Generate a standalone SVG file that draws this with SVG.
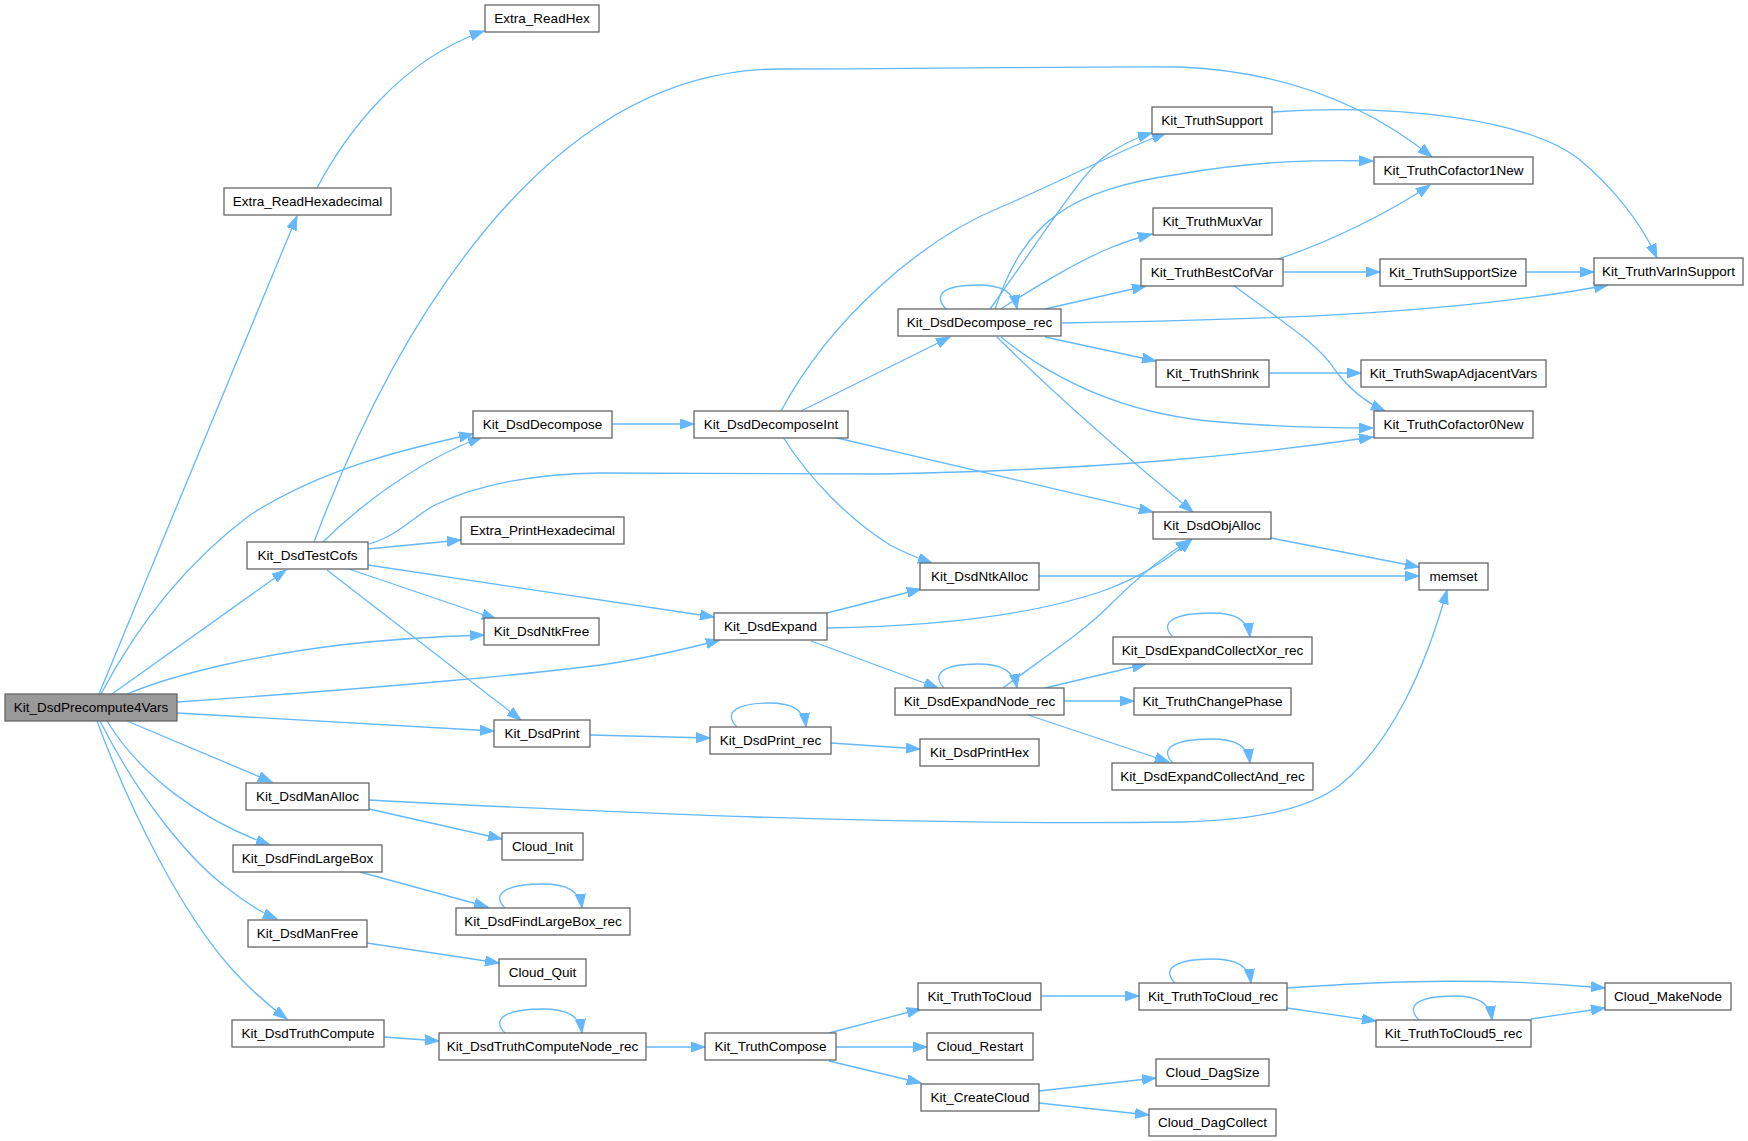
<svg xmlns="http://www.w3.org/2000/svg" width="1748" height="1141" viewBox="0 0 1748 1141">
<style>
.n rect{fill:#fff;stroke:#666;stroke-width:1.3}
.n.root rect{fill:#999}
.n text{font-family:"Liberation Sans",Arial,sans-serif;font-size:13.5px;fill:#000;text-anchor:middle}
.e path{fill:none;stroke:#63b8ff;stroke-width:1.3;marker-end:url(#ah)}
</style>
<defs>
<marker id="ah" markerUnits="userSpaceOnUse" markerWidth="15" markerHeight="11" refX="14" refY="5" orient="auto" viewBox="0 0 15 10">
<path d="M0,0 L14,5 L0,10 z" fill="#63b8ff" stroke="#63b8ff" stroke-width="1"/>
</marker>
</defs>
<rect width="1748" height="1141" fill="#fff"/>
<g id="edges" class="e">
<path d="M99,694 L297,216"/>
<path d="M101,694 C140,620 190,560 250,515 C320,470 400,450 473,434"/>
<path d="M112,694 L286,570"/>
<path d="M127,694 C180,672 260,655 340,645 C400,638 450,636 484,635"/>
<path d="M177,702 C380,688 560,672 620,662 C660,655 690,648 720,640"/>
<path d="M177,713 L494,731"/>
<path d="M127,721 L272,782"/>
<path d="M107,721 C140,775 200,820 270,845"/>
<path d="M100,721 C140,800 190,860 226,887 C245,902 260,912 277,919"/>
<path d="M97,721 C130,810 180,910 230,967 C250,990 268,1005 287,1019"/>
<path d="M314,542 C390,340 540,69 780,69 C950,69 1100,66 1180,67 C1300,72 1380,115 1432,157"/>
<path d="M323,542 C360,505 420,460 482,437"/>
<path d="M369,544 C400,535 415,515 435,505 C480,483 540,474 600,473 L880,474 C1100,470 1250,455 1373,437"/>
<path d="M368,549 L461,540"/>
<path d="M368,565 L714,617"/>
<path d="M349,569 L496,619"/>
<path d="M327,570 L521,720"/>
<path d="M612,424 L694,424"/>
<path d="M781,411 C830,320 920,240 1001,207 C1060,182 1120,150 1166,133"/>
<path d="M801,411 L950,337"/>
<path d="M783,437 C810,480 850,520 890,545 C905,553 918,558 932,563"/>
<path d="M833,437 L1153,512"/>
<path d="M946,309 C932,294 945,285 978,285 C1002,285 1014,292 1017,309"/>
<path d="M990,309 C1040,240 1080,175 1104,157 C1120,145 1135,138 1152,133"/>
<path d="M995,309 C1025,220 1070,190 1180,174 C1260,160 1320,160 1373,161"/>
<path d="M1001,309 C1030,290 1080,260 1110,248 C1125,242 1140,237 1152,234"/>
<path d="M1045,309 L1146,286"/>
<path d="M1062,323 C1250,320 1450,315 1608,285"/>
<path d="M1045,337 L1156,361"/>
<path d="M1001,337 C1060,385 1130,415 1220,422 C1280,427 1330,428 1373,428"/>
<path d="M997,337 C1060,400 1130,460 1193,512"/>
<path d="M1272,112 C1400,103 1530,120 1580,160 C1610,185 1640,220 1657,258"/>
<path d="M1278,259 C1330,242 1390,212 1430,185"/>
<path d="M1283,272 L1380,272"/>
<path d="M1233,285 C1280,320 1320,345 1335,370 C1350,390 1365,402 1385,411"/>
<path d="M1526,272 L1594,272"/>
<path d="M1269,373 L1361,373"/>
<path d="M1271,538 L1419,567"/>
<path d="M1039,576 L1419,576"/>
<path d="M827,613 L921,589"/>
<path d="M827,628 C950,626 1040,612 1100,592 C1140,578 1170,558 1192,539"/>
<path d="M811,641 L938,688"/>
<path d="M944,688 C930,673 945,664 978,664 C1002,664 1014,671 1017,688"/>
<path d="M1003,688 C1040,660 1080,635 1110,605 C1140,575 1165,555 1190,540"/>
<path d="M1045,688 L1146,664"/>
<path d="M1064,701 L1134,701"/>
<path d="M1028,715 L1169,762"/>
<path d="M1173,637 C1158,622 1175,613 1212,613 C1236,613 1248,620 1250,637"/>
<path d="M1173,763 C1158,748 1175,739 1212,739 C1236,739 1248,746 1250,763"/>
<path d="M369,800 C600,812 900,826 1180,822 C1260,820 1310,808 1340,785 C1390,745 1425,670 1447,590"/>
<path d="M369,809 L502,839"/>
<path d="M360,872 L488,907"/>
<path d="M505,908 C490,893 508,884 543,884 C567,884 580,891 582,908"/>
<path d="M367,943 L499,963"/>
<path d="M384,1037 L439,1041"/>
<path d="M505,1033 C490,1018 508,1009 543,1009 C567,1009 580,1016 582,1033"/>
<path d="M646,1047 L705,1047"/>
<path d="M829,1033 L921,1009"/>
<path d="M836,1047 L927,1047"/>
<path d="M829,1061 L921,1083"/>
<path d="M1041,996 L1139,996"/>
<path d="M1175,983 C1160,968 1178,959 1212,959 C1237,959 1249,966 1251,983"/>
<path d="M1287,988 C1400,980 1500,978 1605,988"/>
<path d="M1287,1008 L1376,1021"/>
<path d="M1419,1020 C1404,1005 1420,996 1454,996 C1478,996 1490,1003 1492,1020"/>
<path d="M1531,1019 L1605,1008"/>
<path d="M1039,1091 L1156,1078"/>
<path d="M1039,1103 L1149,1115"/>
<path d="M590,735 L710,738"/>
<path d="M737,727 C722,712 738,703 769,703 C793,703 804,710 806,727"/>
<path d="M831,743 L920,749"/>
<path d="M317,188 C345,135 400,60 484,31"/>
</g>
<g id="n1" class="n root"><rect x="5" y="694" width="172" height="27"/><text x="91" y="712">Kit_DsdPrecompute4Vars</text></g>
<g id="n2" class="n"><rect x="224" y="188" width="167" height="27"/><text x="307.5" y="206">Extra_ReadHexadecimal</text></g>
<g id="n3" class="n"><rect x="485" y="5" width="114" height="27"/><text x="542" y="23">Extra_ReadHex</text></g>
<g id="n4" class="n"><rect x="473" y="411" width="139" height="27"/><text x="542.5" y="429">Kit_DsdDecompose</text></g>
<g id="n5" class="n"><rect x="247" y="542" width="121" height="27"/><text x="307.5" y="560">Kit_DsdTestCofs</text></g>
<g id="n6" class="n"><rect x="461" y="517" width="163" height="27"/><text x="542.5" y="535">Extra_PrintHexadecimal</text></g>
<g id="n7" class="n"><rect x="484" y="618" width="115" height="27"/><text x="541.5" y="636">Kit_DsdNtkFree</text></g>
<g id="n8" class="n"><rect x="494" y="720" width="96" height="27"/><text x="542" y="738">Kit_DsdPrint</text></g>
<g id="n9" class="n"><rect x="246" y="783" width="123" height="27"/><text x="307.5" y="801">Kit_DsdManAlloc</text></g>
<g id="n10" class="n"><rect x="502" y="833" width="81" height="27"/><text x="542.5" y="851">Cloud_Init</text></g>
<g id="n11" class="n"><rect x="233" y="845" width="149" height="27"/><text x="307.5" y="863">Kit_DsdFindLargeBox</text></g>
<g id="n12" class="n"><rect x="456" y="908" width="174" height="27"/><text x="543" y="926">Kit_DsdFindLargeBox_rec</text></g>
<g id="n13" class="n"><rect x="248" y="920" width="119" height="27"/><text x="307.5" y="938">Kit_DsdManFree</text></g>
<g id="n14" class="n"><rect x="499" y="959" width="87" height="27"/><text x="542.5" y="977">Cloud_Quit</text></g>
<g id="n15" class="n"><rect x="232" y="1020" width="152" height="27"/><text x="308" y="1038">Kit_DsdTruthCompute</text></g>
<g id="n16" class="n"><rect x="439" y="1033" width="207" height="27"/><text x="542.5" y="1051">Kit_DsdTruthComputeNode_rec</text></g>
<g id="n17" class="n"><rect x="694" y="411" width="154" height="27"/><text x="771" y="429">Kit_DsdDecomposeInt</text></g>
<g id="n18" class="n"><rect x="714" y="613" width="113" height="27"/><text x="770.5" y="631">Kit_DsdExpand</text></g>
<g id="n19" class="n"><rect x="710" y="727" width="121" height="27"/><text x="770.5" y="745">Kit_DsdPrint_rec</text></g>
<g id="n20" class="n"><rect x="705" y="1033" width="131" height="27"/><text x="770.5" y="1051">Kit_TruthCompose</text></g>
<g id="n21" class="n"><rect x="898" y="309" width="163" height="27"/><text x="979.5" y="327">Kit_DsdDecompose_rec</text></g>
<g id="n22" class="n"><rect x="920" y="563" width="119" height="27"/><text x="979.5" y="581">Kit_DsdNtkAlloc</text></g>
<g id="n23" class="n"><rect x="895" y="688" width="169" height="27"/><text x="979.5" y="706">Kit_DsdExpandNode_rec</text></g>
<g id="n24" class="n"><rect x="920" y="739" width="119" height="27"/><text x="979.5" y="757">Kit_DsdPrintHex</text></g>
<g id="n25" class="n"><rect x="918" y="983" width="123" height="27"/><text x="979.5" y="1001">Kit_TruthToCloud</text></g>
<g id="n26" class="n"><rect x="927" y="1033" width="106" height="27"/><text x="980" y="1051">Cloud_Restart</text></g>
<g id="n27" class="n"><rect x="921" y="1084" width="118" height="27"/><text x="980" y="1102">Kit_CreateCloud</text></g>
<g id="n28" class="n"><rect x="1152" y="107" width="120" height="27"/><text x="1212" y="125">Kit_TruthSupport</text></g>
<g id="n29" class="n"><rect x="1153" y="208" width="119" height="27"/><text x="1212.5" y="226">Kit_TruthMuxVar</text></g>
<g id="n30" class="n"><rect x="1141" y="259" width="142" height="27"/><text x="1212" y="277">Kit_TruthBestCofVar</text></g>
<g id="n31" class="n"><rect x="1156" y="360" width="113" height="27"/><text x="1212.5" y="378">Kit_TruthShrink</text></g>
<g id="n32" class="n"><rect x="1153" y="512" width="118" height="27"/><text x="1212" y="530">Kit_DsdObjAlloc</text></g>
<g id="n33" class="n"><rect x="1113" y="637" width="199" height="27"/><text x="1212.5" y="655">Kit_DsdExpandCollectXor_rec</text></g>
<g id="n34" class="n"><rect x="1134" y="688" width="157" height="27"/><text x="1212.5" y="706">Kit_TruthChangePhase</text></g>
<g id="n35" class="n"><rect x="1112" y="763" width="201" height="27"/><text x="1212.5" y="781">Kit_DsdExpandCollectAnd_rec</text></g>
<g id="n36" class="n"><rect x="1139" y="983" width="148" height="27"/><text x="1213" y="1001">Kit_TruthToCloud_rec</text></g>
<g id="n37" class="n"><rect x="1156" y="1059" width="113" height="27"/><text x="1212.5" y="1077">Cloud_DagSize</text></g>
<g id="n38" class="n"><rect x="1149" y="1109" width="127" height="27"/><text x="1212.5" y="1127">Cloud_DagCollect</text></g>
<g id="n39" class="n"><rect x="1374" y="157" width="159" height="27"/><text x="1453.5" y="175">Kit_TruthCofactor1New</text></g>
<g id="n40" class="n"><rect x="1380" y="259" width="146" height="27"/><text x="1453" y="277">Kit_TruthSupportSize</text></g>
<g id="n41" class="n"><rect x="1361" y="360" width="185" height="27"/><text x="1453.5" y="378">Kit_TruthSwapAdjacentVars</text></g>
<g id="n42" class="n"><rect x="1374" y="411" width="159" height="27"/><text x="1453.5" y="429">Kit_TruthCofactor0New</text></g>
<g id="n43" class="n"><rect x="1419" y="563" width="69" height="27"/><text x="1453.5" y="581">memset</text></g>
<g id="n44" class="n"><rect x="1376" y="1020" width="155" height="27"/><text x="1453.5" y="1038">Kit_TruthToCloud5_rec</text></g>
<g id="n45" class="n"><rect x="1594" y="258" width="149" height="27"/><text x="1668.5" y="276">Kit_TruthVarInSupport</text></g>
<g id="n46" class="n"><rect x="1605" y="983" width="126" height="27"/><text x="1668" y="1001">Cloud_MakeNode</text></g>
</svg>
